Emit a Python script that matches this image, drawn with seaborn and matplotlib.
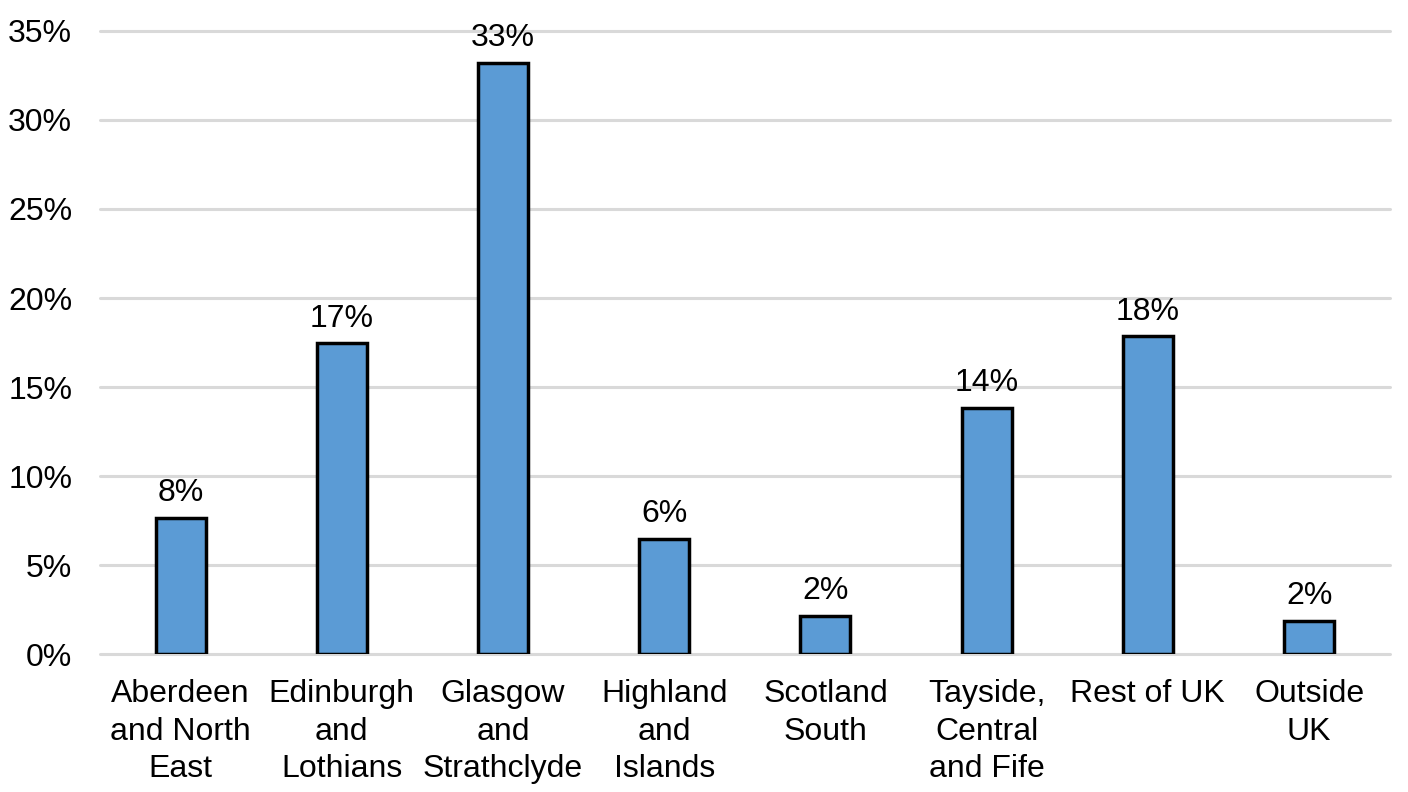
import matplotlib.pyplot as plt
import pandas as pd
import seaborn as sns
from matplotlib.ticker import PercentFormatter

regions = [
    "Aberdeen\nand North\nEast",
    "Edinburgh\nand\nLothians",
    "Glasgow\nand\nStrathclyde",
    "Highland\nand\nIslands",
    "Scotland\nSouth",
    "Tayside,\nCentral\nand Fife",
    "Rest of UK",
    "Outside\nUK",
]
shares = [7.65, 17.45, 33.2, 6.47, 2.14, 13.84, 17.84, 1.86]
labels = ["8%", "17%", "33%", "6%", "2%", "14%", "18%", "2%"]

df = pd.DataFrame({"region": regions, "share": shares})

sns.set_style("white")
plt.rcParams["font.family"] = ["Liberation Sans", "DejaVu Sans"]
plt.rcParams["text.color"] = "black"
plt.rcParams["xtick.color"] = "black"
plt.rcParams["ytick.color"] = "black"

fig = plt.figure(figsize=(14.08, 7.92), dpi=100)
ax = fig.add_axes([0.071, 0.174, 0.916, 0.787])

sns.barplot(
    x="region",
    y="share",
    data=df,
    color="#5b9bd5",
    saturation=1,
    width=0.31,
    edgecolor="black",
    linewidth=2.5,
    errorbar=None,
    ax=ax,
    zorder=3,
)

# value labels above the bars
ax.bar_label(ax.containers[0], labels=labels, padding=7, fontsize=23,
             color="black")

ax.set_ylim(0, 35)
ax.set_yticks(range(0, 36, 5))
ax.yaxis.set_major_formatter(PercentFormatter(decimals=0))
ax.grid(axis="y", color="#d9d9d9", linewidth=2.2, zorder=0)
for gl in ax.get_ygridlines():
    gl.set_clip_on(False)
ax.set_axisbelow(True)
ax.set_xlim(-0.5, len(regions) - 0.5)

for s in ax.spines.values():
    s.set_visible(False)

ax.set_xlabel("")
ax.set_ylabel("")
ax.tick_params(axis="both", length=0, labelsize=23, labelcolor="black")
ax.tick_params(axis="x", pad=18)
ax.tick_params(axis="y", pad=20)
for t in ax.get_xticklabels():
    t.set_linespacing(1.33)

fig.savefig("out.png", dpi=100)
